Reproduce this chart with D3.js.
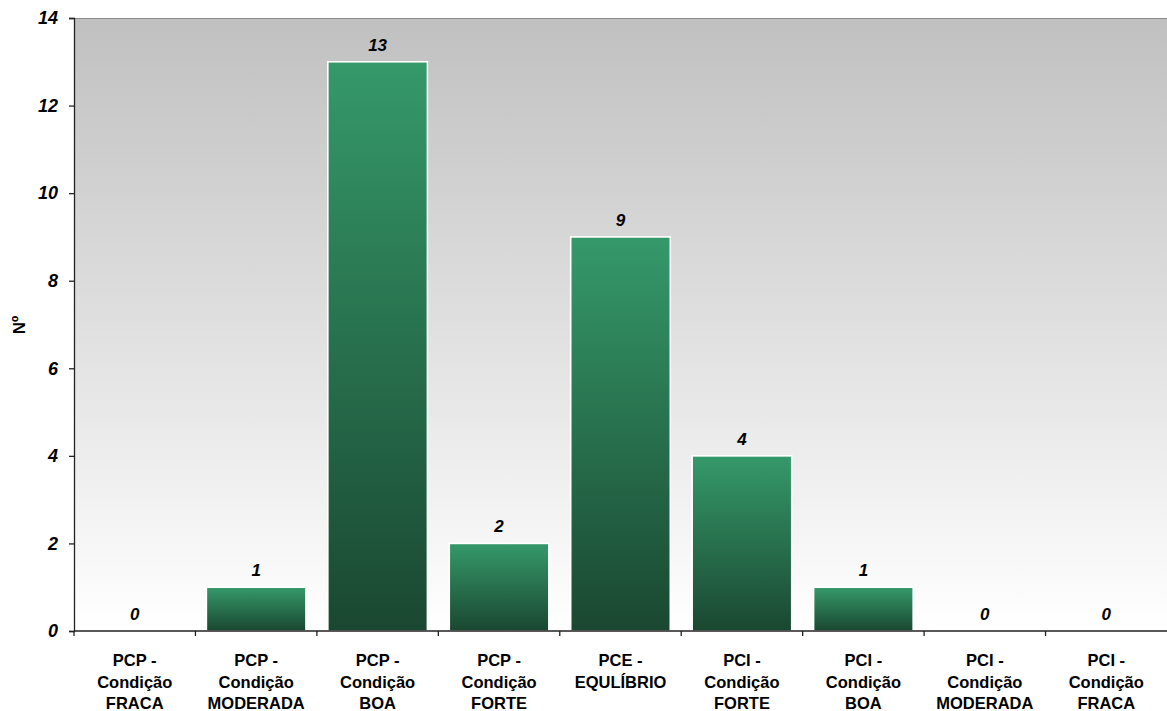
<!DOCTYPE html>
<html>
<head>
<meta charset="utf-8">
<script src="https://cdn.jsdelivr.net/npm/d3@7"></script>
<style>
  html, body { margin: 0; padding: 0; background: #ffffff; }
  svg { display: block; font-family: "Liberation Sans", Arial, sans-serif; }
</style>
</head>
<body>
<svg id="chart" width="1167" height="711"></svg>
<script>
// Categories (each label split into lines) and counts
const categories = [
  ["PCP -", "Condição", "FRACA"],
  ["PCP -", "Condição", "MODERADA"],
  ["PCP -", "Condição", "BOA"],
  ["PCP -", "Condição", "FORTE"],
  ["PCE -", "EQULÍBRIO"],
  ["PCI -", "Condição", "FORTE"],
  ["PCI -", "Condição", "BOA"],
  ["PCI -", "Condição", "MODERADA"],
  ["PCI -", "Condição", "FRACA"]
];
const counts = [0, 1, 13, 2, 9, 4, 1, 0, 0];
const yTicks = [0, 2, 4, 6, 8, 10, 12, 14];
const yTitle = "Nº";

const W = 1167, H = 711;
const margin = { top: 18, right: 0, bottom: 80, left: 74 };
const iw = W - margin.left - margin.right;
const ih = H - margin.top - margin.bottom;

const svg = d3.select("#chart");
const defs = svg.append("defs");

const bg = defs.append("linearGradient").attr("id", "bgGrad")
  .attr("x1", 0).attr("y1", 0).attr("x2", 0).attr("y2", 1);
bg.append("stop").attr("offset", "0%").attr("stop-color", "#c0c0c0");
bg.append("stop").attr("offset", "100%").attr("stop-color", "#ffffff");

const barGrad = defs.append("linearGradient").attr("id", "barGrad")
  .attr("x1", 0).attr("y1", 0).attr("x2", 0).attr("y2", 1);
barGrad.append("stop").attr("offset", "0%").attr("stop-color", "#35996a");
barGrad.append("stop").attr("offset", "100%").attr("stop-color", "#1a4731");

const g = svg.append("g").attr("transform", `translate(${margin.left},${margin.top})`);

const x = d3.scaleBand().domain(d3.range(categories.length)).range([0, iw])
  .paddingInner(0.18).paddingOuter(0.09);
const y = d3.scaleLinear().domain([0, 14]).range([ih, 0]);

// plot background
g.append("rect").attr("x", 0).attr("y", 0).attr("width", iw).attr("height", ih)
  .attr("fill", "url(#bgGrad)");
g.append("line").attr("x1", 0).attr("x2", iw).attr("y1", 0.5).attr("y2", 0.5)
  .attr("stroke", "#8a8a8a").attr("stroke-width", 1.2);

// bars
g.selectAll("rect.bar").data(counts).join("rect")
  .attr("class", "bar")
  .attr("x", (d, i) => x(i))
  .attr("y", d => y(d))
  .attr("width", x.bandwidth())
  .attr("height", d => ih - y(d))
  .attr("fill", "url(#barGrad)")
  .attr("stroke", d => d > 0 ? "#ffffff" : "none")
  .attr("stroke-width", 1.6);

// value labels
g.selectAll("text.val").data(counts).join("text")
  .attr("class", "val")
  .attr("x", (d, i) => x(i) + x.bandwidth() / 2)
  .attr("y", d => y(d) - 11)
  .attr("text-anchor", "middle")
  .attr("font-size", 17).attr("font-weight", "bold").attr("font-style", "italic")
  .attr("fill", "#000")
  .text(d => d);

// y axis
const yAxis = g.append("g").call(d3.axisLeft(y).tickValues(yTicks).tickSize(5).tickPadding(11));
yAxis.select(".domain").attr("stroke", "#222").attr("stroke-width", 1.3);
yAxis.selectAll(".tick line").attr("stroke", "#222").attr("stroke-width", 1.3);
yAxis.selectAll(".tick text")
  .attr("font-size", 18).attr("font-weight", "bold").attr("font-style", "italic")
  .attr("fill", "#000").attr("font-family", "'Liberation Sans', Arial, sans-serif");

// x axis with boundary ticks between categories
const xAxisG = g.append("g").attr("transform", `translate(0,${ih})`);
xAxisG.append("line").attr("x1", 0).attr("x2", iw).attr("y1", 0).attr("y2", 0)
  .attr("stroke", "#222").attr("stroke-width", 1.3);
const step = x.step();
const boundaries = d3.range(categories.length).map(i => x(i) - step * x.paddingInner() / 2);
xAxisG.selectAll("line.tk").data(boundaries).join("line")
  .attr("class", "tk")
  .attr("x1", d => d).attr("x2", d => d).attr("y1", 0).attr("y2", 5)
  .attr("stroke", "#222").attr("stroke-width", 1.3);

// category labels
const lab = xAxisG.selectAll("text.cat").data(categories).join("text")
  .attr("class", "cat")
  .attr("text-anchor", "middle")
  .attr("font-size", 16.5).attr("font-weight", "bold").attr("fill", "#000")
  .attr("transform", (d, i) => `translate(${x(i) + x.bandwidth() / 2},35)`);
lab.selectAll("tspan").data(d => d).join("tspan")
  .attr("x", 0).attr("dy", (d, i) => i === 0 ? 0 : 21.5)
  .text(d => d);

// y title
svg.append("text")
  .attr("transform", "translate(25,325) rotate(-90)")
  .attr("text-anchor", "middle")
  .attr("font-size", 17).attr("font-weight", "bold").attr("fill", "#000")
  .text(yTitle);
</script>
</body>
</html>
